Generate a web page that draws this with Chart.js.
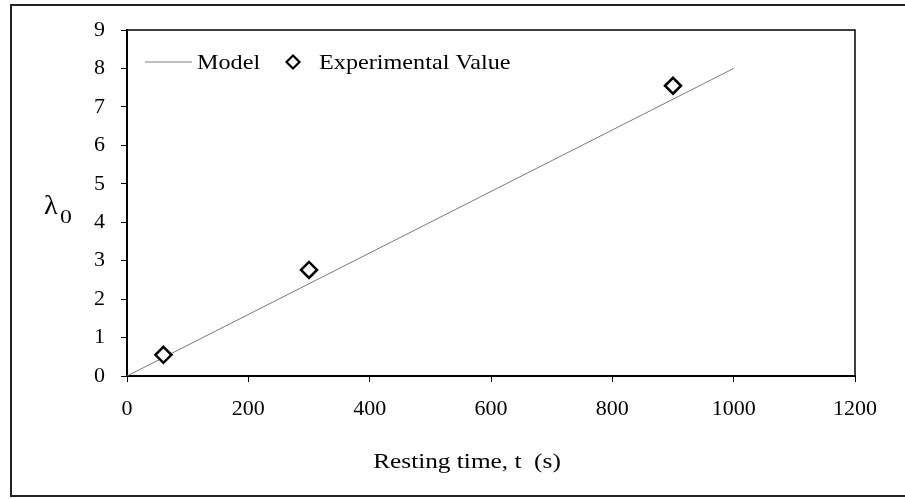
<!DOCTYPE html>
<html>
<head>
<meta charset="utf-8">
<script src="https://cdn.jsdelivr.net/npm/chart.js@4/dist/chart.umd.min.js"></script>
<style>
  body { margin: 0; background: #fff; }
  canvas { display: block; }
</style>
</head>
<body>
<canvas id="lambdaChart" width="905" height="499"></canvas>
<script>
// values
const modelTime = [0, 1000];
const modelLambda = [0, 8];
const expTime = [60, 300, 900];
const expLambda = [0.55, 2.76, 7.55];
const seriesNames = ['Model', 'Experimental Value'];
const xTitle = 'Resting time, t  (s)';

const serif = '"Liberation Serif", "Times New Roman", serif';

// text in the original figure is a bit wider than the font, so squeeze it sideways
const wideText = (ctx, text, x, y, sx, align) => {
    ctx.save();
    ctx.translate(x, y);
    ctx.scale(sx, 1);
    ctx.textAlign = align || 'left';
    ctx.fillText(text, 0, 0);
    ctx.restore();
};

// frame, axis titles and legend drawn on the canvas
const figureExtras = {
    id: 'figureExtras',
    beforeDraw(chart) {
        const ctx = chart.ctx;
        ctx.save();
        ctx.strokeStyle = '#222';
        ctx.lineWidth = 2;
        ctx.strokeRect(11, 5, 905, 491);
        ctx.restore();
    },
    afterDraw(chart) {
        const ctx = chart.ctx;
        const area = chart.chartArea;
        ctx.save();

        // thin top/right edges of the plot box
        ctx.strokeStyle = '#000';
        ctx.lineWidth = 1.5;
        ctx.beginPath();
        ctx.moveTo(area.left, area.top);
        ctx.lineTo(area.right, area.top);
        ctx.lineTo(area.right, area.bottom);
        ctx.stroke();

        // y title: lambda with subscript 0
        ctx.fillStyle = '#000';
        ctx.textBaseline = 'alphabetic';
        ctx.font = '27px ' + serif;
        wideText(ctx, 'λ', 44, 214, 1.05);
        ctx.font = '19px ' + serif;
        wideText(ctx, '0', 60, 223, 1.25);

        // x title
        ctx.font = '22px ' + serif;
        wideText(ctx, xTitle, 467, 468, 1.15, 'center');

        // legend
        const ly = 62;
        ctx.strokeStyle = '#808080';
        ctx.lineWidth = 1;
        ctx.beginPath();
        ctx.moveTo(145, ly);
        ctx.lineTo(192, ly);
        ctx.stroke();
        wideText(ctx, chart.data.datasets[0].label, 197, 69, 1.1);

        ctx.strokeStyle = '#000';
        ctx.lineWidth = 2.2;
        ctx.fillStyle = '#fff';
        ctx.beginPath();
        ctx.moveTo(293 - 6.5, ly);
        ctx.lineTo(293, ly - 6.5);
        ctx.lineTo(293 + 6.5, ly);
        ctx.lineTo(293, ly + 6.5);
        ctx.closePath();
        ctx.fill();
        ctx.stroke();
        ctx.fillStyle = '#000';
        wideText(ctx, chart.data.datasets[1].label, 319, 69, 1.1);

        ctx.restore();
    }
};

document.addEventListener('DOMContentLoaded', function () {
    const ctx = document.getElementById('lambdaChart').getContext('2d');
    new Chart(ctx, {
        type: 'scatter',
        data: {
            datasets: [{
                label: seriesNames[0],
                data: modelTime.map((t, i) => ({ x: t, y: modelLambda[i] })),
                showLine: true,
                borderColor: '#7a7a7a',
                borderWidth: 1,
                pointRadius: 0,
                order: 2
            }, {
                label: seriesNames[1],
                data: expTime.map((t, i) => ({ x: t, y: expLambda[i] })),
                showLine: false,
                pointStyle: 'rectRot',
                pointRadius: 8,
                borderColor: '#000',
                backgroundColor: '#fff',
                borderWidth: 2.5,
                order: 1
            }]
        },
        options: {
            responsive: false,
            animation: false,
            layout: { padding: { top: 30, right: 50, left: 0, bottom: 0 } },
            plugins: {
                legend: { display: false },
                tooltip: { enabled: false }
            },
            scales: {
                x: {
                    type: 'linear',
                    min: 0,
                    max: 1200,
                    ticks: {
                        stepSize: 200, color: '#000', padding: 14,
                        font: { family: serif, size: 22 },
                        callback: v => String(v)
                    },
                    grid: { drawOnChartArea: false, drawTicks: true, tickLength: 6, tickColor: '#000' },
                    border: { display: true, color: '#000', width: 2 },
                    afterFit(scale) { scale.height = 123; }
                },
                y: {
                    min: 0,
                    max: 9,
                    ticks: {
                        stepSize: 1, color: '#000', padding: 16,
                        font: { family: serif, size: 22 },
                        callback: v => String(v)
                    },
                    grid: { drawOnChartArea: false, drawTicks: true, tickLength: 6, tickColor: '#000' },
                    border: { display: true, color: '#000', width: 2 },
                    afterFit(scale) { scale.width = 127; }
                }
            }
        },
        plugins: [figureExtras]
    });
});
</script>
</body>
</html>
